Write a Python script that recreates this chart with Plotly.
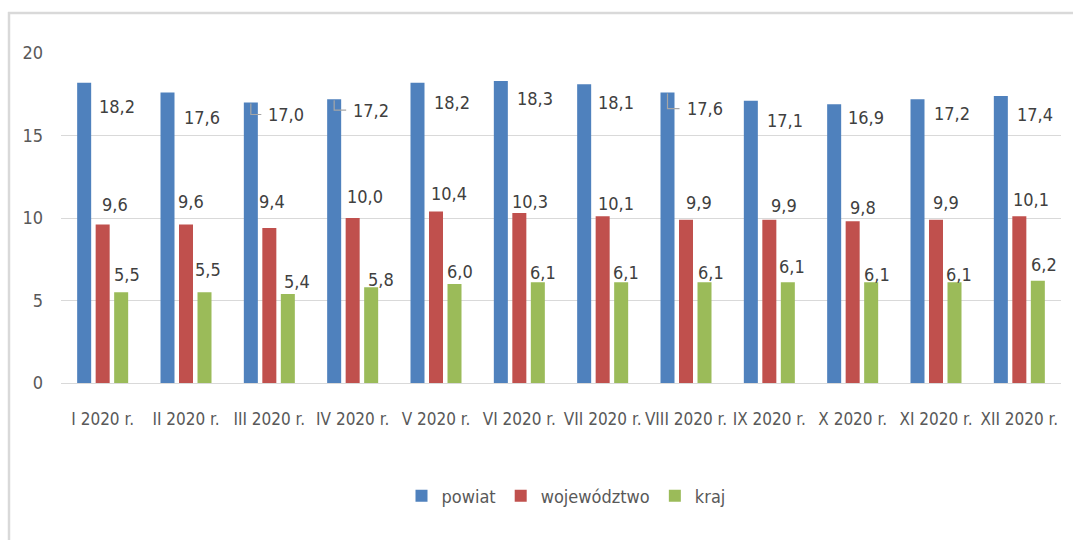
import plotly.graph_objects as go

# --- data -------------------------------------------------------------
months = ["I 2020 r.", "II 2020 r.", "III 2020 r.", "IV 2020 r.", "V 2020 r.",
          "VI 2020 r.", "VII 2020 r.", "VIII 2020 r.", "IX 2020 r.", "X 2020 r.",
          "XI 2020 r.", "XII 2020 r."]
powiat = [18.2, 17.6, 17.0, 17.2, 18.2, 18.3, 18.1, 17.6, 17.1, 16.9, 17.2, 17.4]
wojewodztwo = [9.6, 9.6, 9.4, 10.0, 10.4, 10.3, 10.1, 9.9, 9.9, 9.8, 9.9, 10.1]
kraj = [5.5, 5.5, 5.4, 5.8, 6.0, 6.1, 6.1, 6.1, 6.1, 6.1, 6.1, 6.2]
y_ticks = [0, 5, 10, 15, 20]

# --- label placement (pixel nudges, as dragged in the spreadsheet) ----
powiat_dx = [14, 15.5, 16.5, 18, 15, 15.5, 13, 18, 15, 12.5, 15, 15]
powiat_dy = [24, 24.5, 12, 11, 20, 17, 18, 16, 19.5, 13, 14, 19]
powiat_leader = [False, False, True, True, False, False, False, True,
                 False, False, False, False]
woj_dx = [12, 5, 3, 12, 13, 10.5, 13, 12.5, 14.5, 10, 9.5, 12]
woj_dy = [20, 23, 26, 22, 18, 12, 12.5, 17, 14.5, 13.5, 17, 17]
kraj_dx = [6, 3, 9, 10, 5, 5, 4.5, 6, 4.5, 6, 4, 6]
kraj_dy = [18, 23, 12, 8, 13, 10, 9.5, 9.5, 16, 8, 8, 16.5]

# --- layout constants -------------------------------------------------
W, H = 1073, 540
ML, MR, MT, MB = 61, 12, 53, 157
PW, PH = W - ML - MR, H - MT - MB
BARGAP = 0.334
BARGROUPGAP = 0.243
slot = PW / len(months) * (1 - BARGAP) / 3

FONT = "DejaVu Sans Condensed, Liberation Sans Narrow, Roboto Condensed, Liberation Sans, sans-serif"
FS = 18
LABEL_COLOR = "#404040"
AXIS_COLOR = "#595959"
GRID_COLOR = "#d9d9d9"

colors = {"powiat": "#4f81bd", "województwo": "#c0504d", "kraj": "#9bbb59"}

fig = go.Figure()
for name, vals in [("powiat", powiat), ("województwo", wojewodztwo), ("kraj", kraj)]:
    fig.add_trace(go.Bar(
        x=months, y=vals, name=name,
        marker=dict(color=colors[name], line=dict(width=0)),
    ))

annotations = []
shapes = []
fmt = lambda v: f"{v:.1f}".replace(".", ",")

for i, m in enumerate(months):
    # powiat: label to the right, below the bar top
    annotations.append(dict(
        x=m, y=powiat[i], xref="x", yref="y", text=fmt(powiat[i]),
        showarrow=False, xanchor="left", yanchor="middle",
        xshift=-slot + powiat_dx[i] - 1, yshift=-powiat_dy[i],
        font=dict(family=FONT, size=FS, color=LABEL_COLOR),
    ))
    if powiat_leader[i]:
        bx = -slot
        shapes.append(dict(
            type="path", xref="x", yref="y",
            xsizemode="pixel", ysizemode="pixel",
            xanchor=i, yanchor=powiat[i],
            path=f"M {bx:.1f},-1 L {bx:.1f},{-powiat_dy[i]:.1f} "
                 f"L {bx + powiat_dx[i] - 6:.1f},{-powiat_dy[i]:.1f}",
            line=dict(color="#a6a6a6", width=1.2),
        ))
    # województwo: label above the bar, nudged right
    annotations.append(dict(
        x=m, y=wojewodztwo[i], xref="x", yref="y", text=fmt(wojewodztwo[i]),
        showarrow=False, xanchor="center", yanchor="middle",
        xshift=woj_dx[i], yshift=woj_dy[i],
        font=dict(family=FONT, size=FS, color=LABEL_COLOR),
    ))
    # kraj: label above the bar, nudged right
    annotations.append(dict(
        x=m, y=kraj[i], xref="x", yref="y", text=fmt(kraj[i]),
        showarrow=False, xanchor="center", yanchor="middle",
        xshift=slot + kraj_dx[i], yshift=kraj_dy[i],
        font=dict(family=FONT, size=FS, color=LABEL_COLOR),
    ))

# outer chart frame (top and left edges)
px = lambda x: (x - ML) / PW
py = lambda y: (H - MB - y) / PH
shapes.append(dict(type="line", xref="paper", yref="paper",
                   x0=px(8), x1=px(W + 5), y0=py(13), y1=py(13),
                   line=dict(color=GRID_COLOR, width=2.5)))
shapes.append(dict(type="line", xref="paper", yref="paper",
                   x0=px(9), x1=px(9), y0=py(12), y1=py(H + 5),
                   line=dict(color=GRID_COLOR, width=2.5)))

fig.update_layout(
    width=W, height=H,
    margin=dict(l=ML, r=MR, t=MT, b=MB, pad=0),
    paper_bgcolor="white", plot_bgcolor="white",
    barmode="group", bargap=BARGAP, bargroupgap=BARGROUPGAP,
    font=dict(family=FONT, color=AXIS_COLOR, size=FS),
    showlegend=True,
    legend=dict(orientation="h", x=px(566), xanchor="center",
                y=py(496), yanchor="middle",
                font=dict(family=FONT, size=FS, color=AXIS_COLOR),
                itemwidth=30, traceorder="normal",
                bgcolor="rgba(0,0,0,0)"),
    annotations=annotations,
    shapes=shapes,
)
fig.update_xaxes(
    type="category", showgrid=False, showline=False, zeroline=False,
    ticks="", tickangle=0, tickfont=dict(family=FONT, size=17, color=AXIS_COLOR),
    ticklabelstandoff=24, fixedrange=True,
)
fig.update_yaxes(
    range=[0, 20], tickvals=y_ticks, ticktext=[str(t) for t in y_ticks],
    showgrid=True, gridcolor=GRID_COLOR, gridwidth=1.3,
    zeroline=True, zerolinecolor=GRID_COLOR, zerolinewidth=1.3,
    showline=False, ticks="",
    tickfont=dict(family=FONT, size=FS, color=AXIS_COLOR),
    ticklabelstandoff=17, fixedrange=True,
)

fig.write_html("out.html", config={"displayModeBar": False})
